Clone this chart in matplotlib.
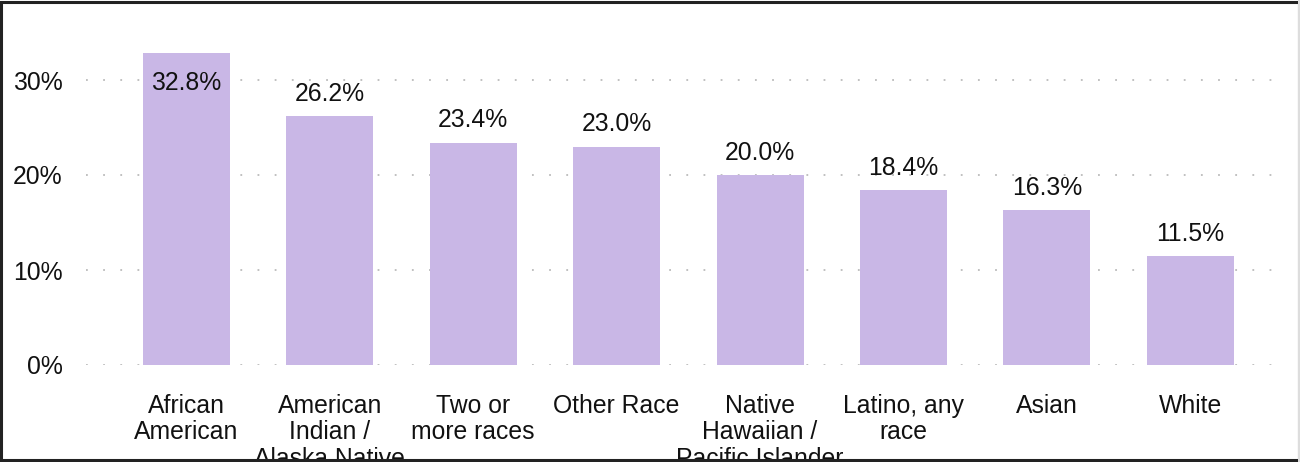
import matplotlib.pyplot as plt
from matplotlib.patches import Rectangle

plt.rcParams['font.family'] = ['Liberation Sans', 'DejaVu Sans']

categories = ['African\nAmerican', 'American\nIndian /\nAlaska Native', 'Two or\nmore races',
              'Other Race', 'Native\nHawaiian /\nPacific Islander', 'Latino, any\nrace',
              'Asian', 'White']
values = [32.8, 26.2, 23.4, 23.0, 20.0, 18.4, 16.3, 11.5]
yticks = [0, 10, 20, 30]

bar_color = '#c9b7e6'
fs = 17.8

fig = plt.figure(figsize=(13, 4.62), dpi=100)
ax = fig.add_axes([86 / 1300, 97 / 462, 1199 / 1300, 332.5 / 462])

x = list(range(len(values)))
ax.bar(x, values, width=0.607, color=bar_color, zorder=2)

for xi, v in zip(x, values):
    if v > 30:
        # no room above, put it inside the bar
        ax.annotate(f'{v:.1f}%', (xi, v), xytext=(0, -21), textcoords='offset points',
                    ha='center', va='center', fontsize=fs, color='#111111', zorder=3)
    else:
        ax.annotate(f'{v:.1f}%', (xi, v), xytext=(0, 16), textcoords='offset points',
                    ha='center', va='center', fontsize=fs, color='#111111', zorder=3)

ax.set_xlim(-0.70, 7.66)
ax.set_ylim(0, 35)
ax.set_yticks(yticks)
ax.set_yticklabels([f'{t}%' for t in yticks], fontsize=fs, color='#111111')
ax.set_xticks(x)
ax.set_xticklabels(categories, fontsize=fs, color='#111111', va='top', linespacing=1.12)
ax.tick_params(axis='y', length=0, pad=17)
ax.tick_params(axis='x', length=0, pad=21)
ax.grid(axis='y', color='#bbbbbb', linestyle=(0, (1, 8.5)), linewidth=1.3, zorder=1)
for s in ax.spines.values():
    s.set_visible(False)

# outer frame
fig.patches.append(Rectangle((1 / 1300, 2 / 462), 1297.5 / 1300, 458.5 / 462, transform=fig.transFigure,
                             fill=False, edgecolor='#222222', linewidth=2.2, zorder=10))
fig.patches.append(Rectangle((1298 / 1300, 0), 2 / 1300, 1, transform=fig.transFigure,
                             facecolor='#dddddd', edgecolor='none', zorder=11))

fig.savefig('out.png', dpi=100)
